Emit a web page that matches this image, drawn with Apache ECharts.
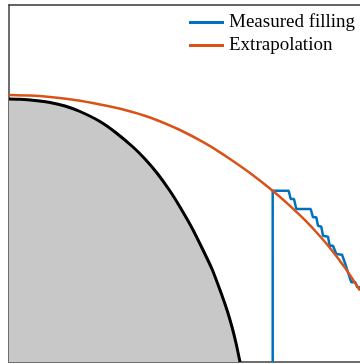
<!DOCTYPE html>
<html>
<head>
<meta charset="utf-8">
<script src="https://cdn.jsdelivr.net/npm/echarts@6/dist/echarts.min.js"></script>
<style>html,body{margin:0;padding:0;background:#fff}#c{width:360px;height:364px}</style>
</head>
<body>
<div id="c"></div>
<script>
// Solid body outline (black curve, filled gray below)
const bodyX = [0, 1.1, 2.6, 4.1, 5.6, 7.1, 9.1, 10.6, 12.4, 13.6, 14.8, 16.1, 17.1, 18.3, 19.4, 20.3, 21.1, 21.8, 22.3, 22.7, 23.1];
const bodyY = [26.3, 26.27, 26.15, 25.95, 25.6, 25.05, 24.05, 23.0, 21.5, 20.3, 18.9, 17.1, 15.5, 13.4, 11.2, 9.3, 7.2, 5.2, 3.5, 1.9, 0];
// Extrapolation (orange)
const extraX = [0, 2.1, 4.1, 6.6, 9.1, 11.6, 14.1, 17.1, 19.1, 20.6, 22.1, 24.1, 26.4, 28.1, 29.6, 30.9, 32.1, 33.6, 35.1];
const extraY = [26.7, 26.65, 26.5, 26.2, 25.75, 25.2, 24.45, 23.2, 22.16, 21.29, 20.3, 18.9, 17.1, 15.62, 14.18, 12.8, 11.4, 9.42, 7.15];
// Measured filling (blue step trace)
const measX = [26.37, 26.37, 27.97, 28.17, 28.5, 28.73, 30.17, 30.4, 30.73, 30.9, 31.23, 31.4, 31.9, 32.07, 32.4, 32.73, 33.3, 33.63, 33.9, 34.23, 34.63, 34.83, 35.23];
const measY = [0, 17.13, 17.13, 16.3, 16.3, 15.3, 15.3, 14.47, 14.47, 13.63, 13.53, 12.63, 12.53, 11.63, 11.63, 10.8, 10.73, 9.8, 8.97, 7.97, 7.97, 7.47, 7.47];
const legendNames = ['Measured filling', 'Extrapolation'];

const zip = (xs, ys) => xs.map((x, i) => [x, ys[i]]);

const chart = echarts.init(document.getElementById('c'), null, {renderer: 'canvas'});
chart.setOption({
  animation: false,
  backgroundColor: '#fff',
  grid: {left: 9, right: 0, top: 5, bottom: 2},
  legend: {
    data: legendNames,
    orient: 'vertical',
    left: 189,
    top: 13,
    padding: 0,
    itemWidth: 35,
    itemHeight: 3,
    itemGap: 4,
    icon: 'rect',
    textStyle: {fontFamily: 'Liberation Serif', fontSize: 19, color: '#000'}
  },
  xAxis: [
    {type: 'value', min: 0, max: 35.1, position: 'bottom',
     axisLine: {show: true, onZero: false, lineStyle: {color: '#6e6e6e', width: 2}},
     axisTick: {show: false}, axisLabel: {show: false}, splitLine: {show: false}},
    {type: 'value', min: 0, max: 35.1, position: 'top',
     axisLine: {show: true, onZero: false, lineStyle: {color: '#333', width: 1.5}},
     axisTick: {show: false}, axisLabel: {show: false}, splitLine: {show: false}}
  ],
  yAxis: {type: 'value', min: 0, max: 35.7,
    axisLine: {show: true, onZero: false, lineStyle: {color: '#6e6e6e', width: 2}},
    axisTick: {show: false}, axisLabel: {show: false}, splitLine: {show: false}},
  series: [
    {name: 'Body', type: 'line', data: zip(bodyX, bodyY), smooth: 0.2, symbol: 'none',
     lineStyle: {color: '#000', width: 3}, areaStyle: {color: '#c8c8c8', opacity: 1}, z: 2},
    {name: 'Measured filling', type: 'line', data: zip(measX, measY), symbol: 'none',
     itemStyle: {color: '#0072bd'}, lineStyle: {color: '#0072bd', width: 2.5}, z: 3},
    {name: 'Extrapolation', type: 'line', data: zip(extraX, extraY), smooth: 0.2, symbol: 'none',
     itemStyle: {color: '#d95319'}, lineStyle: {color: '#d95319', width: 2.5}, z: 4}
  ]
});
</script>
</body>
</html>
